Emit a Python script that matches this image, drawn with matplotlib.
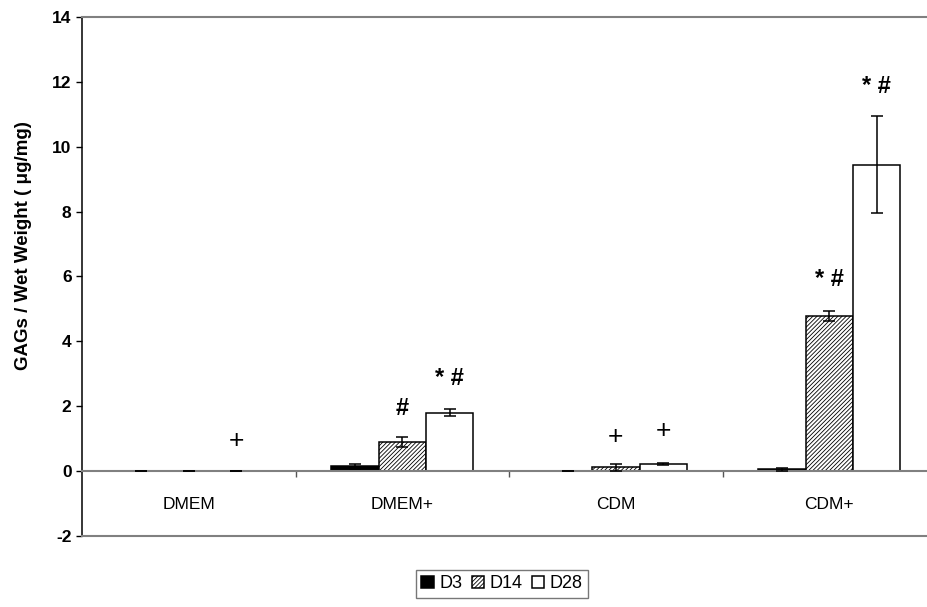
import numpy as np
import matplotlib
matplotlib.use('Agg')
import matplotlib.pyplot as plt

plt.rcParams['font.family'] = ['Liberation Sans', 'DejaVu Sans']
plt.rcParams['axes.unicode_minus'] = False
plt.rcParams['hatch.linewidth'] = 0.6
plt.rcParams['hatch.color'] = '#333333'

# culture media and time points
media = ['DMEM', 'DMEM+', 'CDM', 'CDM+']
days = ['D3', 'D14', 'D28']

# GAGs / wet weight (ug/mg), mean and error for each day
d3 = [0.0, 0.15, 0.0, 0.06]
d3_err = [0.0, 0.07, 0.0, 0.05]
d14 = [0.0, 0.89, 0.12, 4.78]
d14_err = [0.0, 0.16, 0.11, 0.15]
d28 = [0.0, 1.80, 0.22, 9.45]
d28_err = [0.0, 0.11, 0.03, 1.50]

# significance marks: (medium index, day index, text, y)
marks = [
    (0, 2, '+', 0.93),
    (1, 1, '#', 1.94),
    (1, 2, '* #', 2.85),
    (2, 1, '+', 1.05),
    (2, 2, '+', 1.23),
    (3, 1, '* #', 5.90),
    (3, 2, '* #', 11.85),
]

fig = plt.figure(figsize=(9.27, 6.07), dpi=100)
ax = fig.add_axes([0.0885, 0.117, 0.9213, 0.855])

ind = np.arange(len(media))
barWidth = 0.222
offsets = [-barWidth, 0, barWidth]

b1 = ax.bar(ind + offsets[0], d3, barWidth, color='black', edgecolor='black',
            linewidth=1.1, zorder=2)
b2 = ax.bar(ind + offsets[1], d14, barWidth, color='white', edgecolor='black',
            hatch='////////', linewidth=1.1, zorder=2)
b3 = ax.bar(ind + offsets[2], d28, barWidth, color='white', edgecolor='black',
            linewidth=1.1, zorder=2)

for off, vals, errs in zip(offsets, [d3, d14, d28], [d3_err, d14_err, d28_err]):
    ax.errorbar(ind + off, vals, yerr=errs, fmt='none', ecolor='black',
                elinewidth=1.1, capsize=4.3, capthick=1.1, zorder=4)

for m, d, txt, y in marks:
    if txt == '+':
        ax.text(ind[m] + offsets[d], y, txt, ha='center', va='center',
                fontsize=19, zorder=5)
    else:
        ax.text(ind[m] + offsets[d], y, txt, ha='center', va='center',
                fontsize=17, fontweight='bold', zorder=5)

ax.set_xlim(-0.5, 3.5)
ax.set_ylim(-2, 14)
ax.set_yticks(np.arange(-2, 15, 2))
ax.tick_params(axis='y', direction='out', length=4, width=1, colors='black',
               labelsize=12.5)
for lab in ax.get_yticklabels():
    lab.set_fontweight('bold')

# category axis crosses at zero
ax.spines['bottom'].set_position(('data', 0))
ax.spines['bottom'].set_color('#808080')
ax.spines['bottom'].set_linewidth(1.5)
ax.spines['bottom'].set_zorder(3)
ax.spines['top'].set_color('#808080')
ax.spines['top'].set_linewidth(1.5)
ax.spines['right'].set_color('#808080')
ax.spines['left'].set_color('black')
ax.spines['left'].set_linewidth(1.1)
ax.axhline(-2, color='#808080', linewidth=1.5, clip_on=False, zorder=3)

ax.set_xticks(ind)
ax.set_xticklabels(media, fontsize=12.5)
ax.set_xticks(ind[:-1] + 0.5, minor=True)
ax.tick_params(axis='x', which='major', length=0, pad=19)
ax.tick_params(axis='x', which='minor', direction='out', length=4, width=1,
               color='#555555')

ax.set_ylabel('GAGs / Wet Weight ( \u03bcg/mg)', fontsize=13.5, fontweight='bold')
ax.yaxis.set_label_coords(-0.0585, 0.56)

fig.legend((b1[0], b2[0], b3[0]), days, loc='upper left',
           bbox_to_anchor=(0.4488, 0.061), ncol=3, fontsize=13,
           frameon=True, fancybox=False, edgecolor='#555555',
           handlelength=0.7, handleheight=0.7, handletextpad=0.3,
           columnspacing=0.5, borderpad=0.3, borderaxespad=0)

fig.savefig('out.png', dpi=100)
